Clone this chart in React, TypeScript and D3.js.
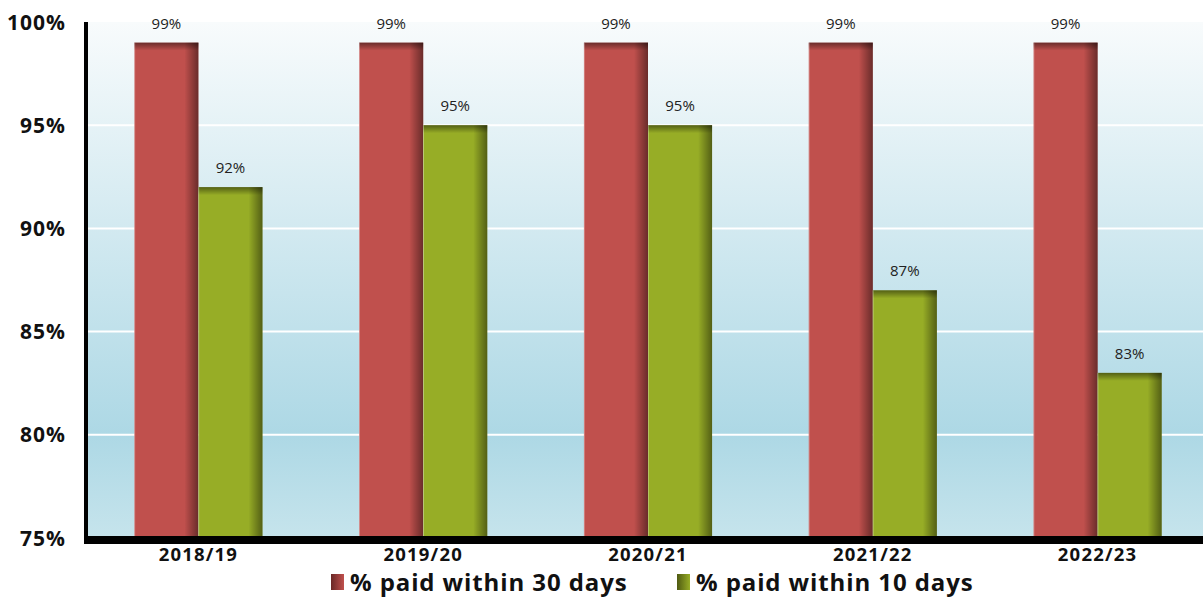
import React from "react";
import * as d3 from "d3";

const years = ["2018/19", "2019/20", "2020/21", "2021/22", "2022/23"];
const within30 = [99, 99, 99, 99, 99];
const within10 = [92, 95, 95, 87, 83];
const yTicks = [75, 80, 85, 90, 95, 100];
const seriesNames = ["% paid within 30 days", "% paid within 10 days"];

const W = 1203;
const H = 598;
const left = 86;
const right = 1203;
const top = 22;
const bottom = 538;
const font = "'Open Sans', Lato, sans-serif";

const colors = [
  { base: "#c0504d", dark: "#6a2826", id: "red" },
  { base: "#97ad26", dark: "#4f5a12", id: "green" },
];

export default function App() {
  // the category step runs a little past the right edge in the original
  const x = d3.scaleBand<string>().domain(years).range([left, 1210]).paddingInner(0.43).paddingOuter(0.215);
  const y = d3.scaleLinear().domain([75, 100]).range([bottom, top]);
  const bw = x.bandwidth() / 2;

  const series = [within30, within10];

  return (
    <svg width={W} height={H} style={{ position: "absolute", left: 0, top: 0 }}>
      <defs>
        <linearGradient id="bg" x1="0" y1="0" x2="0" y2="1">
          <stop offset="0" stopColor="#f8fbfc" />
          <stop offset="0.8" stopColor="#add8e5" />
          <stop offset="1" stopColor="#c6e4ec" />
        </linearGradient>
        <linearGradient id="edgeR" x1="0" y1="0" x2="1" y2="0">
          <stop offset="0" stopColor="#000" stopOpacity="0" />
          <stop offset="1" stopColor="#000" stopOpacity="0.45" />
        </linearGradient>
        <linearGradient id="edgeT" x1="0" y1="0" x2="0" y2="1">
          <stop offset="0" stopColor="#000" stopOpacity="0.45" />
          <stop offset="1" stopColor="#000" stopOpacity="0" />
        </linearGradient>
        {colors.map((c) => (
          <linearGradient key={c.id} id={"leg-" + c.id} x1="0" y1="0" x2="1" y2="0">
            <stop offset="0" stopColor={c.dark} />
            <stop offset="1" stopColor={c.base} />
          </linearGradient>
        ))}
      </defs>

      <rect x={left} y={top} width={right - left} height={bottom - top} fill="url(#bg)" />

      {yTicks.slice(1, -1).map((t) => (
        <line key={t} x1={left} x2={right} y1={y(t)} y2={y(t)} stroke="#fff" strokeWidth={2} />
      ))}

      {years.map((yr, i) =>
        series.map((s, k) => {
          const bx = (x(yr) as number) + k * bw;
          const by = y(s[i]);
          const bh = bottom - by;
          const c = colors[k];
          return (
            <g key={yr + k}>
              <rect x={bx} y={by} width={bw} height={bh} fill={c.base} />
              <rect x={bx + bw - 14} y={by} width={14} height={bh} fill="url(#edgeR)" />
              <rect x={bx} y={by} width={bw} height={8} fill="url(#edgeT)" />
              <rect x={bx} y={by} width={0.8} height={bh} fill="#fff" opacity={0.35} />
              <text
                x={bx + bw / 2}
                y={by - 14}
                textAnchor="middle"
                fontFamily={font}
                fontSize={15}
                fill="#222"
              >
                {s[i]}%
              </text>
            </g>
          );
        })
      )}

      <rect x={84} y={top} width={4} height={bottom - top + 6} fill="#000" />
      <rect x={86} y={bottom - 2} width={right - 86} height={8} fill="#000" />

      {yTicks.map((t) => (
        <text
          key={t}
          x={66}
          y={y(t)}
          dy="0.36em"
          textAnchor="end"
          fontFamily={font}
          fontWeight={700}
          fontSize={21}
          letterSpacing={1}
          fill="#111"
        >
          {t}%
        </text>
      ))}

      {years.map((yr) => (
        <text
          key={yr}
          x={(x(yr) as number) + x.bandwidth() / 2}
          y={561}
          textAnchor="middle"
          fontFamily={font}
          fontWeight={700}
          fontSize={18.5}
          letterSpacing={1.2}
          fill="#111"
        >
          {yr}
        </text>
      ))}

      {seriesNames.map((n, k) => {
        const lx = k === 0 ? 331 : 677;
        return (
          <g key={n}>
            <rect x={lx} y={574} width={13} height={16} fill={`url(#leg-${colors[k].id})`} />
            <text
              x={lx + 19}
              y={591}
              fontFamily={font}
              fontWeight={700}
              fontSize={24}
              letterSpacing={0.9}
              fill="#111"
            >
              {n}
            </text>
          </g>
        );
      })}
    </svg>
  );
}
